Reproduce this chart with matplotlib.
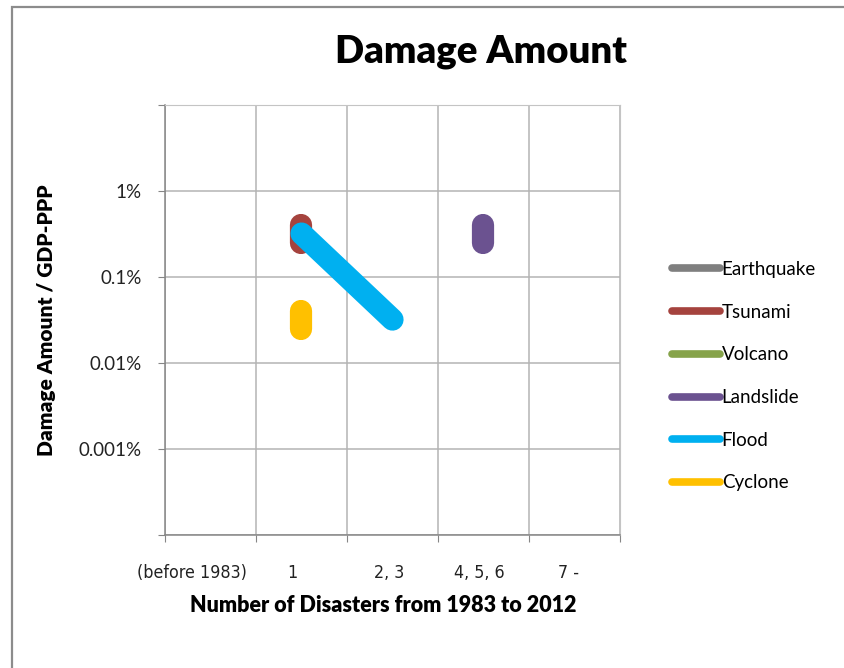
import matplotlib.pyplot as plt
from matplotlib.lines import Line2D
from matplotlib.patches import Rectangle
from matplotlib.ticker import FixedLocator, NullFormatter

# disaster types and the two end points of each bar (x category, damage in % of GDP-PPP)
series = ['Earthquake', 'Tsunami', 'Volcano', 'Landslide', 'Flood', 'Cyclone']
colores = ['#7f7f7f', '#a5433e', '#86a34a', '#6b5290', '#00b0f0', '#ffc000']
x_pts = [[], [1.5, 1.5], [], [3.5, 3.5], [1.5, 2.5], [1.5, 1.5]]
y_pts = [[], [0.40, 0.25], [], [0.40, 0.25], [0.32, 0.032], [0.040, 0.025]]

cat_labels = ['(before 1983)', '1', '2, 3', '4, 5, 6', '7 -']
cat_pos = [0.30, 1.40, 2.46, 3.45, 4.43]
y_ticks = [1e-4, 1e-3, 1e-2, 1e-1, 1, 10]
y_labels = ['', '0.001%', '0.01%', '0.1%', '1%', '']

plt.rcParams['font.family'] = ['Lato', 'DejaVu Sans']
W, H = 845, 668
fig = plt.figure(figsize=(W / 100, H / 100), dpi=100)

# marco gris del area del grafico
fig.patches.append(Rectangle((12 / W, -0.1), 1.2, (H - 7) / H + 0.1,
                             transform=fig.transFigure, fill=False,
                             edgecolor='#8c8c8c', linewidth=1.6))

ax = fig.add_axes([165 / W, (H - 535) / H, (620 - 165) / W, (535 - 105) / H])
ax.set_yscale('log')
ax.set_xlim(0, 5)
ax.set_ylim(1e-4, 10)

for s, c, xs, ys in zip(series, colores, x_pts, y_pts):
    if xs:
        ax.plot(xs, ys, color=c, linewidth=16, solid_capstyle='round', zorder=3)

ax.xaxis.set_major_locator(FixedLocator([0, 1, 2, 3, 4, 5]))
ax.xaxis.set_major_formatter(NullFormatter())
ax.xaxis.set_minor_locator(FixedLocator(cat_pos))
ax.set_xticklabels(cat_labels, minor=True, family='DejaVu Sans',
                   fontsize=12.8, color='#222222')
for t in ax.get_xticklabels(minor=True):
    t.set_fontstretch('condensed')
ax.tick_params(axis='x', which='minor', length=0, pad=21)
ax.tick_params(axis='x', which='major', length=5, color='#868686')

ax.yaxis.set_major_locator(FixedLocator(y_ticks))
ax.yaxis.set_minor_locator(FixedLocator([]))
ax.set_yticklabels(y_labels, fontsize=13.5, color='#222222')
ax.tick_params(axis='y', length=5, color='#868686', pad=12)

ax.grid(True, which='major', color='#b4b4b4', linewidth=1.1)
ax.set_axisbelow(True)
for lado in ['top', 'right']:
    ax.spines[lado].set_color('#c4c4c4')
for lado in ['left', 'bottom']:
    ax.spines[lado].set_color('#868686')
    ax.spines[lado].set_linewidth(1.1)

fig.text(481 / W, 1 - 52 / H, 'Damage Amount', ha='center', va='center',
         fontsize=27.5, fontweight='heavy')
fig.text(47 / W, 1 - 320 / H, 'Damage Amount / GDP-PPP', ha='center', va='center',
         rotation=90, fontsize=15, fontweight='heavy')
fig.text(383 / W, 1 - 606 / H, 'Number of Disasters from 1983 to 2012', ha='center',
         va='center', fontsize=15.5, fontweight='heavy')

handles = [Line2D([], [], color=c, linewidth=5.5, solid_capstyle='round') for c in colores]
fig.legend(handles, series, loc='upper left', bbox_to_anchor=(672 / W, 1 - 261 / H),
           frameon=False, fontsize=13.5, handlelength=2.55, handletextpad=0.1,
           labelspacing=1.37, borderpad=0, borderaxespad=0)

fig.savefig('out.png', dpi=100)
